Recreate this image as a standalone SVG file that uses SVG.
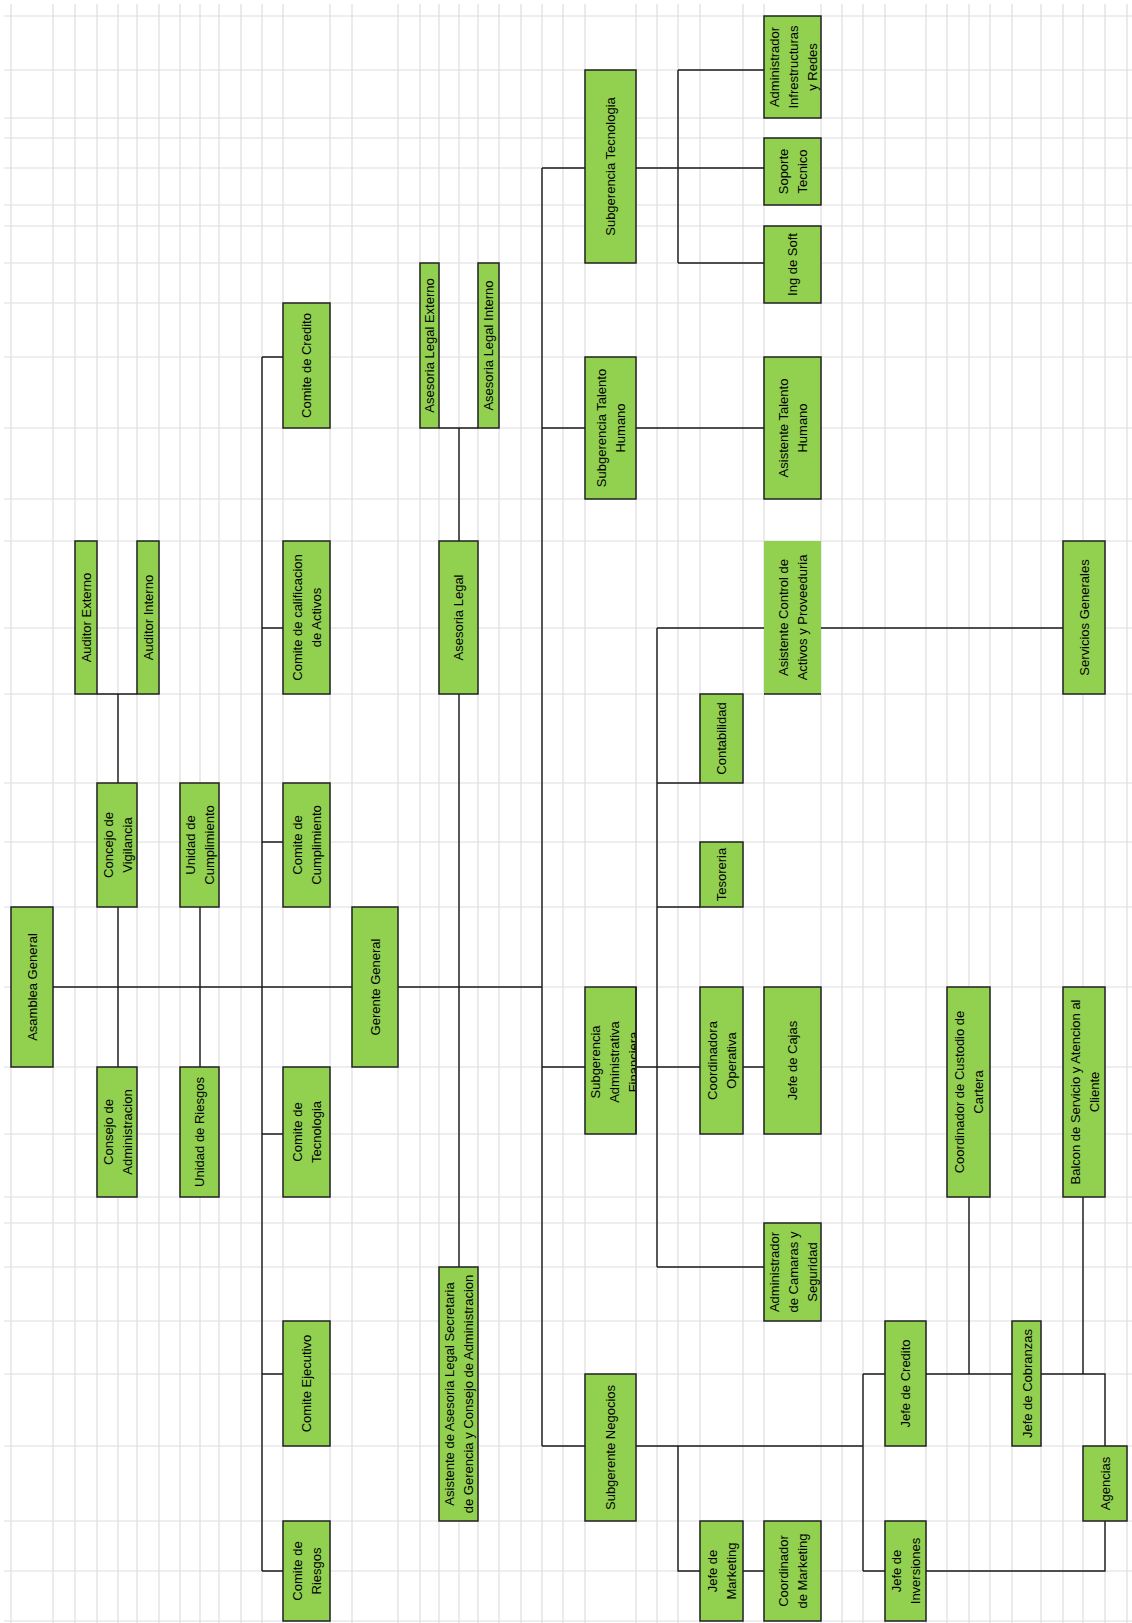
<svg xmlns="http://www.w3.org/2000/svg" width="1132" height="1623" viewBox="0 0 1132 1623">
<style>
.grid{stroke:#dedede;stroke-width:1.2;fill:none}
.n rect{fill:#92d050;stroke:#222;stroke-width:1.5}
.n text,.n tspan{font-family:"Liberation Sans",Arial,sans-serif;font-size:13px;fill:#000;text-anchor:middle;dominant-baseline:central}
.c path{stroke:#1a1a1a;stroke-width:1.4;fill:none}
</style>
<defs>
<clipPath id="clipAdm"><rect x="585" y="987" width="51" height="147"/></clipPath>
</defs>
<rect width="1132" height="1623" fill="#fff"/>
<path class="grid" d="M11 4V1623M53 4V1623M75 4V1623M97 4V1623M118 4V1623M137 4V1623M159 4V1623M180 4V1623M200 4V1623M219 4V1623M241 4V1623M262 4V1623M283 4V1623M330 4V1623M352 4V1623M398 4V1623M420 4V1623M439 4V1623M459 4V1623M478 4V1623M499 4V1623M521 4V1623M542 4V1623M563 4V1623M585 4V1623M636 4V1623M657 4V1623M678 4V1623M700 4V1623M743 4V1623M764 4V1623M821 4V1623M842 4V1623M863 4V1623M885 4V1623M926 4V1623M947 4V1623M969 4V1623M990 4V1623M1012 4V1623M1041 4V1623M1063 4V1623M1083 4V1623M1105 4V1623M1127 4V1623"/>
<path class="grid" d="M4 16H1132M4 70H1132M4 118H1132M4 138H1132M4 168H1132M4 205H1132M4 226H1132M4 263H1132M4 303H1132M4 357H1132M4 428H1132M4 499H1132M4 541H1132M4 628H1132M4 694H1132M4 783H1132M4 842H1132M4 907H1132M4 987H1132M4 1067H1132M4 1134H1132M4 1197H1132M4 1223H1132M4 1267H1132M4 1321H1132M4 1374H1132M4 1446H1132M4 1521H1132M4 1571H1132M4 1621H1132"/>

<g id="connectors" class="c">
<path d="M53 987H352"/>
<path d="M97 694H137M118 694V783M118 907V1067"/>
<path d="M200 907V1067"/>
<path d="M262 357V1571M262 357H283M262 628H283M262 842H283M262 1134H283M262 1374H283M262 1571H283"/>
<path d="M439 428H478M459 428V541M459 694V1267"/>
<path d="M398 987H542M542 168V1446M542 168H585M542 428H585M542 1067H585M542 1446H585"/>
<path d="M636 168H764M678 70V263M678 70H764M678 263H764"/>
<path d="M636 428H764"/>
<path d="M636 1067H700M743 1067H764M657 628V1267M657 628H764M657 783H700M657 907H700M657 1267H764M821 628H1063"/>
<path d="M636 1446H863M678 1446V1571H700M743 1571H764M863 1374V1571M863 1374H885M863 1571H885"/>
<path d="M926 1374H1012M969 1197V1374M1041 1374H1105V1446M1083 1197V1374M926 1571H1105V1521"/>
</g>

<g id="asamblea-general" class="n"><rect x="11" y="907" width="42" height="160"/><text transform="translate(32,987) rotate(-90)">Asamblea General</text></g>
<g id="concejo-vigilancia" class="n"><rect x="97" y="783" width="40" height="124"/><text transform="translate(117,845) rotate(-90)"><tspan x="0" y="-9.5">Concejo de</tspan><tspan x="0" y="9.5">Vigilancia</tspan></text></g>
<g id="unidad-cumplimiento" class="n"><rect x="180" y="783" width="39" height="124"/><text transform="translate(199.5,845) rotate(-90)"><tspan x="0" y="-9.5">Unidad de</tspan><tspan x="0" y="9.5">Cumplimiento</tspan></text></g>
<g id="auditor-externo" class="n"><rect x="75" y="541" width="22" height="153"/><text transform="translate(86,617.5) rotate(-90)">Auditor Externo</text></g>
<g id="auditor-interno" class="n"><rect x="137" y="541" width="22" height="153"/><text transform="translate(148,617.5) rotate(-90)">Auditor Interno</text></g>
<g id="consejo-administracion" class="n"><rect x="97" y="1067" width="40" height="130"/><text transform="translate(117,1132) rotate(-90)"><tspan x="0" y="-9.5">Consejo de</tspan><tspan x="0" y="9.5">Administracion</tspan></text></g>
<g id="unidad-riesgos" class="n"><rect x="180" y="1067" width="39" height="130"/><text transform="translate(199.5,1132) rotate(-90)">Unidad de Riesgos</text></g>
<g id="comite-credito" class="n"><rect x="283" y="303" width="47" height="125"/><text transform="translate(306.5,365.5) rotate(-90)">Comite de Credito</text></g>
<g id="comite-calificacion" class="n"><rect x="283" y="541" width="47" height="153"/><text transform="translate(306.5,617.5) rotate(-90)"><tspan x="0" y="-9.5">Comite de calificacion</tspan><tspan x="0" y="9.5">de Activos</tspan></text></g>
<g id="comite-cumplimiento" class="n"><rect x="283" y="783" width="47" height="124"/><text transform="translate(306.5,845) rotate(-90)"><tspan x="0" y="-9.5">Comite de</tspan><tspan x="0" y="9.5">Cumplimiento</tspan></text></g>
<g id="comite-tecnologia" class="n"><rect x="283" y="1067" width="47" height="130"/><text transform="translate(306.5,1132) rotate(-90)"><tspan x="0" y="-9.5">Comite de</tspan><tspan x="0" y="9.5">Tecnologia</tspan></text></g>
<g id="comite-ejecutivo" class="n"><rect x="283" y="1321" width="47" height="125"/><text transform="translate(306.5,1383.5) rotate(-90)">Comite Ejecutivo</text></g>
<g id="comite-riesgos" class="n"><rect x="283" y="1521" width="47" height="100"/><text transform="translate(306.5,1571) rotate(-90)"><tspan x="0" y="-9.5">Comite de</tspan><tspan x="0" y="9.5">Riesgos</tspan></text></g>
<g id="gerente-general" class="n"><rect x="352" y="907" width="46" height="160"/><text transform="translate(375,987) rotate(-90)">Gerente General</text></g>
<g id="asesoria-legal-externo" class="n"><rect x="420" y="263" width="19" height="165"/><text transform="translate(429.5,345.5) rotate(-90)">Asesoria Legal Externo</text></g>
<g id="asesoria-legal-interno" class="n"><rect x="478" y="263" width="21" height="165"/><text transform="translate(488.5,345.5) rotate(-90)">Asesoria Legal Interno</text></g>
<g id="asesoria-legal" class="n"><rect x="439" y="541" width="39" height="153"/><text transform="translate(458.5,617.5) rotate(-90)">Asesoria Legal</text></g>
<g id="asistente-asesoria-legal" class="n"><rect x="439" y="1267" width="39" height="254"/><text transform="translate(458.5,1394) rotate(-90)"><tspan x="0" y="-9.5">Asistente de Asesoria Legal Secretaria</tspan><tspan x="0" y="9.5">de Gerencia y Consejo de Administracion</tspan></text></g>
<g id="subgerencia-tecnologia" class="n"><rect x="585" y="70" width="51" height="193"/><text transform="translate(610.5,166.5) rotate(-90)">Subgerencia Tecnologia</text></g>
<g id="subgerencia-talento-humano" class="n"><rect x="585" y="357" width="51" height="142"/><text transform="translate(610.5,428) rotate(-90)"><tspan x="0" y="-9.5">Subgerencia Talento</tspan><tspan x="0" y="9.5">Humano</tspan></text></g>
<g id="subgerencia-administrativa-financiera" class="n"><rect x="585" y="987" width="51" height="147"/><g clip-path="url(#clipAdm)"><text transform="translate(614,1062) rotate(-90)"><tspan x="0" y="-19">Subgerencia</tspan><tspan x="0" y="0">Administrativa</tspan><tspan x="0" y="19">Financiera</tspan></text></g><path d="M636 987V1134" fill="none" stroke="#222" stroke-width="1.5"/></g>
<g id="subgerente-negocios" class="n"><rect x="585" y="1374" width="51" height="147"/><text transform="translate(610.5,1447.5) rotate(-90)">Subgerente Negocios</text></g>
<g id="admin-infraestructuras" class="n"><rect x="764" y="16" width="57" height="102"/><text transform="translate(792.5,67) rotate(-90)"><tspan x="0" y="-19">Administrador</tspan><tspan x="0" y="0">Infrestructuras</tspan><tspan x="0" y="19">y Redes</tspan></text></g>
<g id="soporte-tecnico" class="n"><rect x="764" y="138" width="57" height="67"/><text transform="translate(792.5,171.5) rotate(-90)"><tspan x="0" y="-9.5">Soporte</tspan><tspan x="0" y="9.5">Tecnico</tspan></text></g>
<g id="ing-soft" class="n"><rect x="764" y="226" width="57" height="77"/><text transform="translate(792.5,264.5) rotate(-90)">Ing de Soft</text></g>
<g id="asistente-talento-humano" class="n"><rect x="764" y="357" width="57" height="142"/><text transform="translate(792.5,428) rotate(-90)"><tspan x="0" y="-9.5">Asistente Talento</tspan><tspan x="0" y="9.5">Humano</tspan></text></g>
<g id="asistente-control-activos" class="n"><rect x="764" y="541" width="57" height="153" style="stroke:none"/><path d="M764 694H821" fill="none" stroke="#222" stroke-width="1.5"/><text transform="translate(792.5,617.5) rotate(-90)"><tspan x="0" y="-9.5">Asistente Control de</tspan><tspan x="0" y="9.5">Activos y Proveeduria</tspan></text></g>
<g id="servicios-generales" class="n"><rect x="1063" y="541" width="42" height="153"/><text transform="translate(1084,617.5) rotate(-90)">Servicios Generales</text></g>
<g id="contabilidad" class="n"><rect x="700" y="694" width="43" height="89"/><text transform="translate(721.5,738.5) rotate(-90)">Contabilidad</text></g>
<g id="tesoreria" class="n"><rect x="700" y="842" width="43" height="65"/><text transform="translate(721.5,874.5) rotate(-90)">Tesoreria</text></g>
<g id="coordinadora-operativa" class="n"><rect x="700" y="987" width="43" height="147"/><text transform="translate(721.5,1060.5) rotate(-90)"><tspan x="0" y="-9.5">Coordinadora</tspan><tspan x="0" y="9.5">Operativa</tspan></text></g>
<g id="jefe-cajas" class="n"><rect x="764" y="987" width="57" height="147"/><text transform="translate(792.5,1060.5) rotate(-90)">Jefe de Cajas</text></g>
<g id="admin-camaras" class="n"><rect x="764" y="1223" width="57" height="98"/><text transform="translate(792.5,1272) rotate(-90)"><tspan x="0" y="-19">Administrador</tspan><tspan x="0" y="0">de Camaras y</tspan><tspan x="0" y="19">Seguridad</tspan></text></g>
<g id="coordinador-custodio" class="n"><rect x="947" y="987" width="43" height="210"/><text transform="translate(968.5,1092) rotate(-90)"><tspan x="0" y="-9.5">Coordinador de Custodio de</tspan><tspan x="0" y="9.5">Cartera</tspan></text></g>
<g id="balcon-servicio" class="n"><rect x="1063" y="987" width="42" height="210"/><text transform="translate(1084,1092) rotate(-90)"><tspan x="0" y="-9.5">Balcon de Servicio y Atencion al</tspan><tspan x="0" y="9.5">Cliente</tspan></text></g>
<g id="jefe-credito" class="n"><rect x="885" y="1321" width="41" height="125"/><text transform="translate(905.5,1383.5) rotate(-90)">Jefe de Credito</text></g>
<g id="jefe-cobranzas" class="n"><rect x="1012" y="1321" width="29" height="125"/><text transform="translate(1027,1383.5) rotate(-90)">Jefe de Cobranzas</text></g>
<g id="agencias" class="n"><rect x="1083" y="1446" width="44" height="75"/><text transform="translate(1105,1483.5) rotate(-90)">Agencias</text></g>
<g id="jefe-inversiones" class="n"><rect x="885" y="1521" width="41" height="100"/><text transform="translate(905.5,1571) rotate(-90)"><tspan x="0" y="-9.5">Jefe de</tspan><tspan x="0" y="9.5">Inversiones</tspan></text></g>
<g id="jefe-marketing" class="n"><rect x="700" y="1521" width="43" height="100"/><text transform="translate(721.5,1571) rotate(-90)"><tspan x="0" y="-9.5">Jefe de</tspan><tspan x="0" y="9.5">Marketing</tspan></text></g>
<g id="coordinador-marketing" class="n"><rect x="764" y="1521" width="57" height="100"/><text transform="translate(792.5,1571) rotate(-90)"><tspan x="0" y="-9.5">Coordinador</tspan><tspan x="0" y="9.5">de Marketing</tspan></text></g>
</svg>
